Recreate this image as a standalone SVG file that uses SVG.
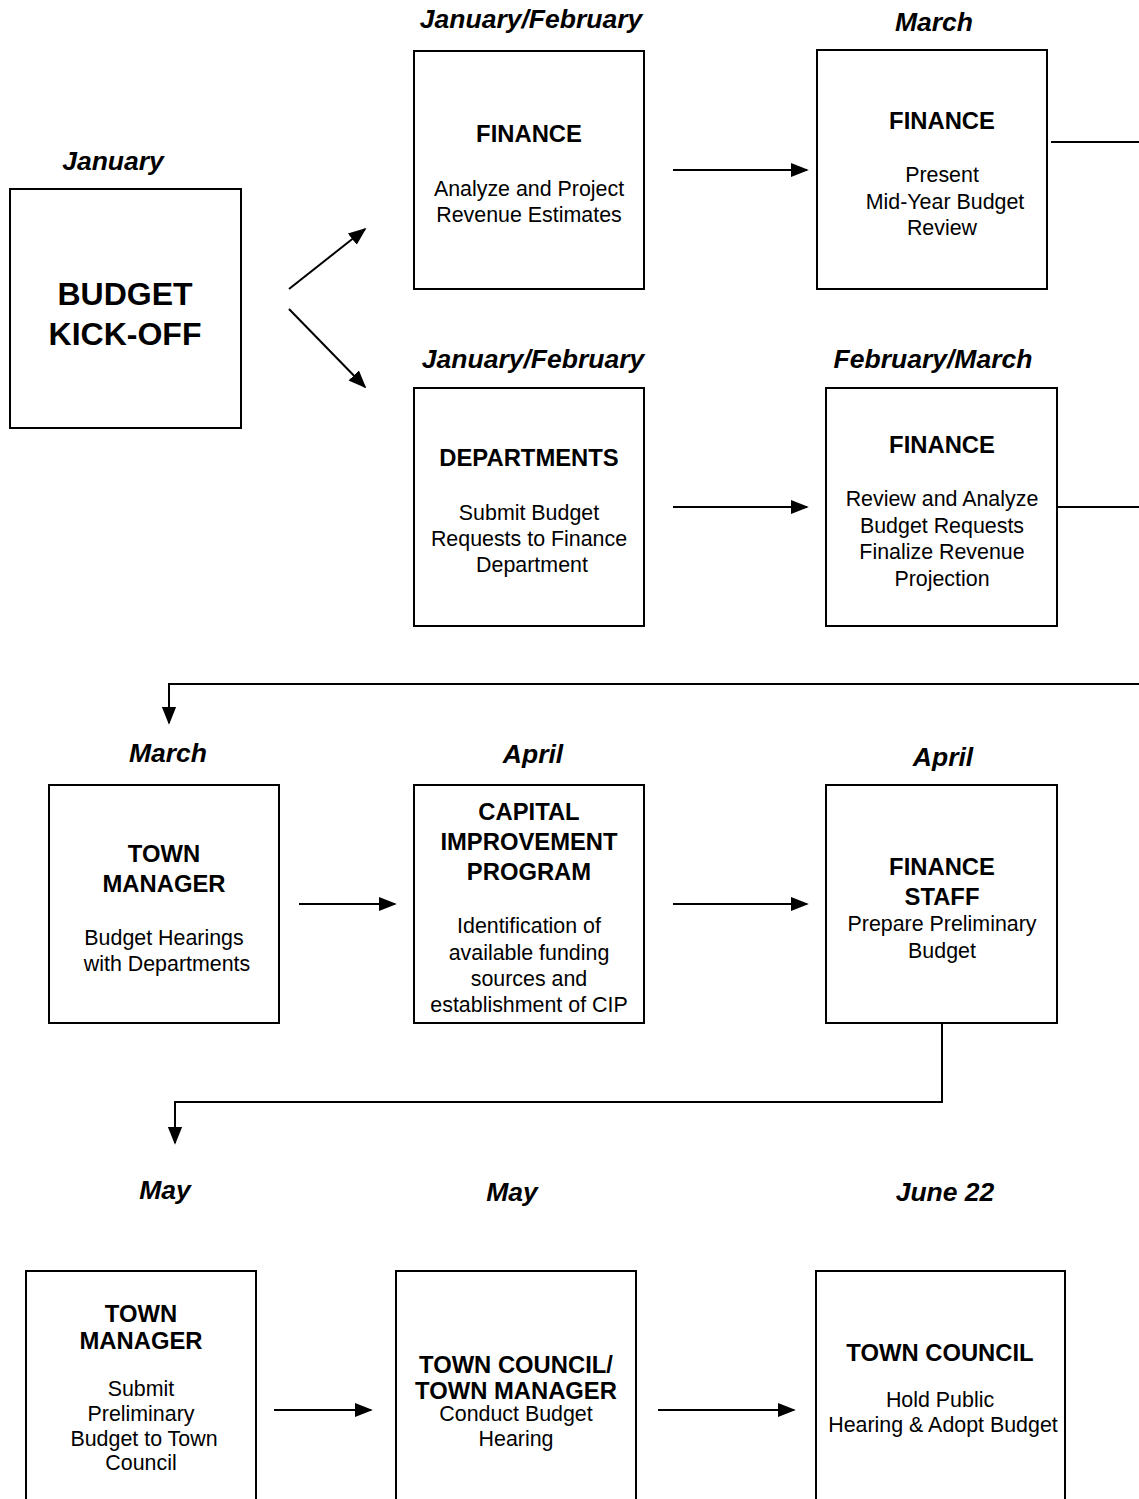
<svg xmlns="http://www.w3.org/2000/svg" width="1139" height="1499" viewBox="0 0 1139 1499">
<style>
.box{fill:#fff;stroke:#000;stroke-width:2}
.lbl{font-family:"Liberation Sans",Arial,sans-serif;font-weight:bold;font-style:italic;font-size:26.5px;text-anchor:middle;fill:#000}
.t{font-family:"Liberation Sans",Arial,sans-serif;font-weight:bold;font-size:23.8px;text-anchor:middle;fill:#000}
.b{font-family:"Liberation Sans",Arial,sans-serif;font-size:21.4px;text-anchor:middle;fill:#000}
.big{font-family:"Liberation Sans",Arial,sans-serif;font-weight:bold;font-size:32px;text-anchor:middle;fill:#000}
.c{fill:none;stroke:#000;stroke-width:2}
</style>
<defs>
<marker id="ah2" viewBox="0 0 10 10" refX="9" refY="5" markerWidth="18" markerHeight="18" markerUnits="userSpaceOnUse" orient="auto">
<path d="M0,1 L10,5 L0,9 z" fill="#000"/>
</marker>
</defs>
<g id="labels">
<text class="lbl" x="531" y="28">January/February</text>
<text class="lbl" x="934" y="31">March</text>
<text class="lbl" x="113" y="170">January</text>
<text class="lbl" x="533" y="368">January/February</text>
<text class="lbl" x="933" y="368">February/March</text>
<text class="lbl" x="168" y="762">March</text>
<text class="lbl" x="533" y="763">April</text>
<text class="lbl" x="943" y="766">April</text>
<text class="lbl" x="165" y="1199">May</text>
<text class="lbl" x="512" y="1201">May</text>
<text class="lbl" x="945" y="1201">June 22</text>
</g>
<g id="connectors">
<line class="c" x1="289" y1="289" x2="365" y2="229" marker-end="url(#ah2)"/>
<line class="c" x1="289" y1="309" x2="365" y2="387" marker-end="url(#ah2)"/>
<line class="c" x1="673" y1="170" x2="807" y2="170" marker-end="url(#ah2)"/>
<line class="c" x1="673" y1="507" x2="807" y2="507" marker-end="url(#ah2)"/>
<line class="c" x1="1051" y1="142" x2="1139" y2="142"/>
<line class="c" x1="1058" y1="507" x2="1139" y2="507"/>
<polyline class="c" points="1139,684 169,684 169,723" marker-end="url(#ah2)"/>
<line class="c" x1="299" y1="904" x2="395" y2="904" marker-end="url(#ah2)"/>
<line class="c" x1="673" y1="904" x2="807" y2="904" marker-end="url(#ah2)"/>
<polyline class="c" points="942,1024 942,1102 175,1102 175,1143" marker-end="url(#ah2)"/>
<line class="c" x1="274" y1="1410" x2="371" y2="1410" marker-end="url(#ah2)"/>
<line class="c" x1="658" y1="1410" x2="794" y2="1410" marker-end="url(#ah2)"/>
</g>
<g id="kickoff">
<rect class="box" x="10" y="189" width="231" height="239"/>
<text class="big" x="125" y="305">BUDGET</text>
<text class="big" x="125" y="345">KICK-OFF</text>
</g>
<g id="finance1">
<rect class="box" x="414" y="51" width="230" height="238"/>
<text class="t" x="529" y="142">FINANCE</text>
<text class="b" x="529" y="196">Analyze and Project</text>
<text class="b" x="529" y="222">Revenue Estimates</text>
</g>
<g id="finance2">
<rect class="box" x="817" y="50" width="230" height="239"/>
<text class="t" x="942" y="129">FINANCE</text>
<text class="b" x="942" y="182">Present</text>
<text class="b" x="945" y="209">Mid-Year Budget</text>
<text class="b" x="942" y="235">Review</text>
</g>
<g id="departments">
<rect class="box" x="414" y="388" width="230" height="238"/>
<text class="t" x="529" y="466">DEPARTMENTS</text>
<text class="b" x="529" y="520">Submit Budget</text>
<text class="b" x="529" y="546">Requests to Finance</text>
<text class="b" x="532" y="572">Department</text>
</g>
<g id="finance3">
<rect class="box" x="826" y="388" width="231" height="238"/>
<text class="t" x="942" y="453">FINANCE</text>
<text class="b" x="942" y="506">Review and Analyze</text>
<text class="b" x="942" y="533">Budget Requests</text>
<text class="b" x="942" y="559">Finalize Revenue</text>
<text class="b" x="942" y="586">Projection</text>
</g>
<g id="townmanager1">
<rect class="box" x="49" y="785" width="230" height="238"/>
<text class="t" x="164" y="862">TOWN</text>
<text class="t" x="164" y="892">MANAGER</text>
<text class="b" x="164" y="945">Budget Hearings</text>
<text class="b" x="167" y="971">with Departments</text>
</g>
<g id="cip">
<rect class="box" x="414" y="785" width="230" height="238"/>
<text class="t" x="529" y="820">CAPITAL</text>
<text class="t" x="529" y="850">IMPROVEMENT</text>
<text class="t" x="529" y="880">PROGRAM</text>
<text class="b" x="529" y="933">Identification of</text>
<text class="b" x="529" y="960">available funding</text>
<text class="b" x="529" y="986">sources and</text>
<text class="b" x="529" y="1012">establishment of CIP</text>
</g>
<g id="financestaff">
<rect class="box" x="826" y="785" width="231" height="238"/>
<text class="t" x="942" y="875">FINANCE</text>
<text class="t" x="942" y="905">STAFF</text>
<text class="b" x="942" y="931">Prepare Preliminary</text>
<text class="b" x="942" y="958">Budget</text>
</g>
<g id="townmanager2">
<rect class="box" x="26" y="1271" width="230" height="260"/>
<text class="t" x="141" y="1322">TOWN</text>
<text class="t" x="141" y="1349">MANAGER</text>
<text class="b" x="141" y="1396">Submit</text>
<text class="b" x="141" y="1421">Preliminary</text>
<text class="b" x="144" y="1446">Budget to Town</text>
<text class="b" x="141" y="1470">Council</text>
</g>
<g id="councilmanager">
<rect class="box" x="396" y="1271" width="240" height="260"/>
<text class="t" x="516" y="1373">TOWN COUNCIL/</text>
<text class="t" x="516" y="1399">TOWN MANAGER</text>
<text class="b" x="516" y="1421">Conduct Budget</text>
<text class="b" x="516" y="1446">Hearing</text>
</g>
<g id="towncouncil">
<rect class="box" x="816" y="1271" width="249" height="260"/>
<text class="t" x="940" y="1361">TOWN COUNCIL</text>
<text class="b" x="940" y="1407">Hold Public</text>
<text class="b" x="943" y="1432">Hearing &amp; Adopt Budget</text>
</g>
</svg>
